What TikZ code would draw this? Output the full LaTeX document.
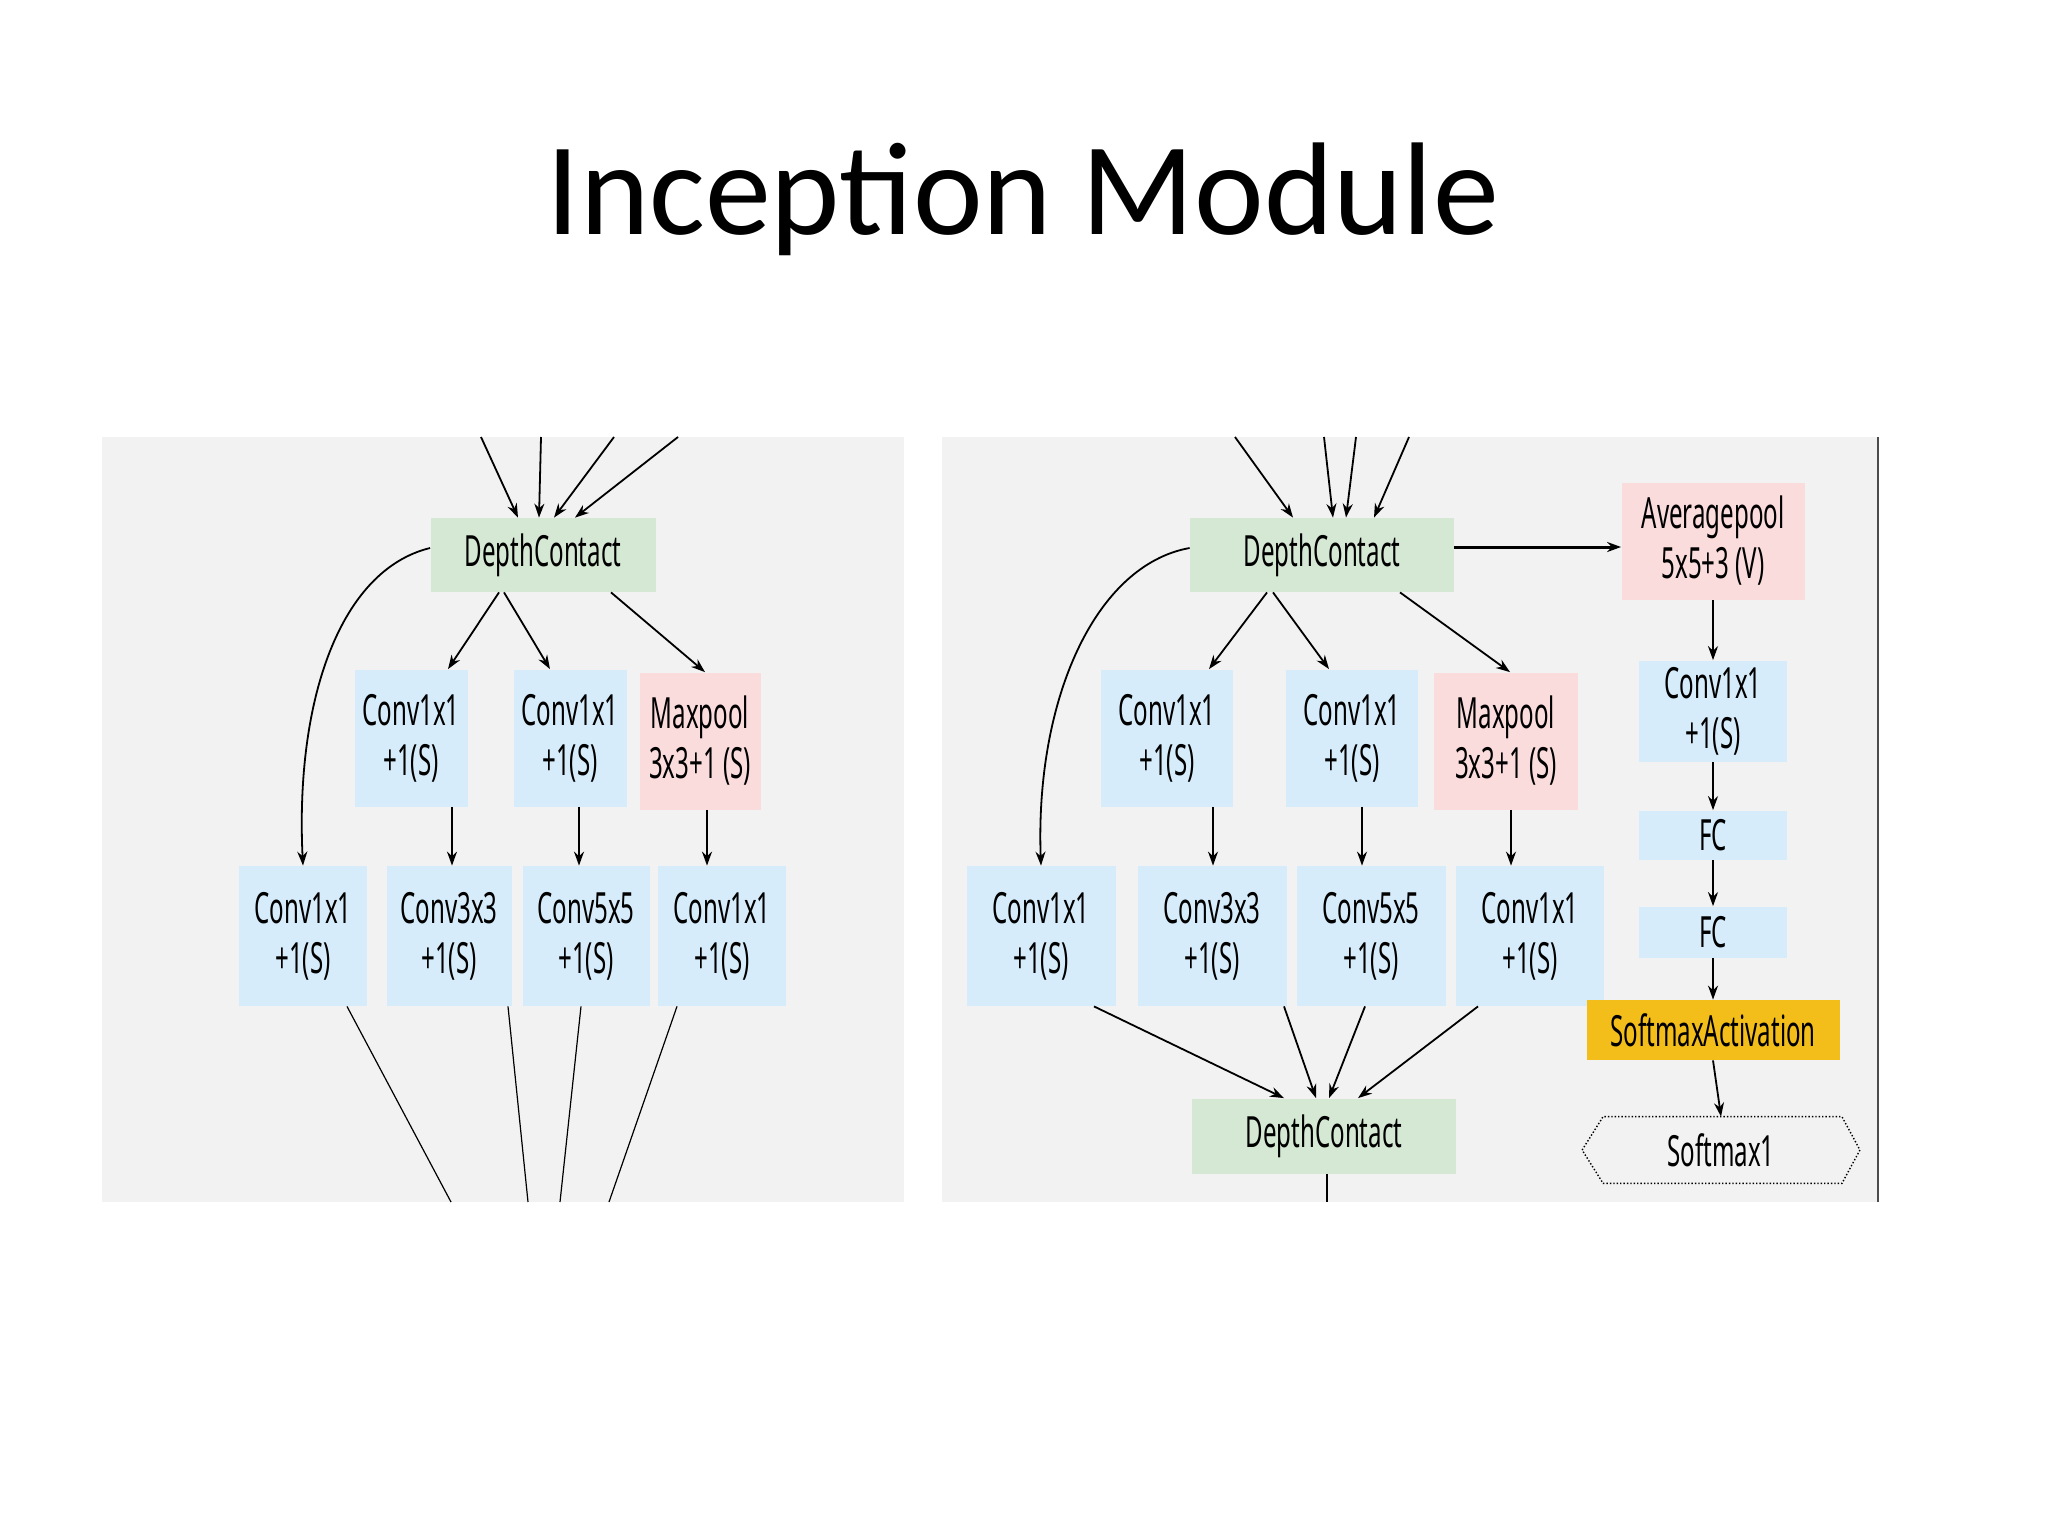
\documentclass[tikz,border=0pt]{standalone}
\usepackage{fontspec}
\setmainfont{Carlito}
\newfontfamily\nodefont{Noto Sans}[FakeStretch=0.56]
\usetikzlibrary{arrows.meta,calc}
\definecolor{panel}{HTML}{F2F2F2}
\definecolor{bblue}{HTML}{D6ECFA}
\definecolor{bgreen}{HTML}{D5E8D4}
\definecolor{bpink}{HTML}{FBDCDC}
\definecolor{byellow}{HTML}{F3BD1A}
\begin{document}
\begin{tikzpicture}[x=0.5pt,y=-0.5pt,
  box/.style={inner sep=0pt,align=center,font=\nodefont\fontsize{21.5}{25}\selectfont},
  blue/.style={box,fill=bblue},
  green/.style={box,fill=bgreen},
  pink/.style={box,fill=bpink},
  yel/.style={box,fill=byellow},
  sz/.style 2 args={minimum width=#1*0.5pt,minimum height=#2*0.5pt},
  ar/.style={-{Stealth[length=7pt,width=5pt]},line width=0.9pt},
  ln/.style={line width=0.6pt}]
\useasboundingbox (0,0) rectangle (2048,1536);
\node[font=\fontsize{66}{70}\selectfont] (title) at (1023,199) {Inception Module};
\fill[panel] (102,437) rectangle (904,1202);
\fill[panel] (942,437) rectangle (1878,1202);
\draw[line width=0.8pt,black!70] (1878,437) -- (1878,1202);
% ---------- left panel
\node[green,sz={225}{74}] (dcL) at (543,555) {DepthContact};
\node[blue,sz={113}{137}] (aL) at (411,738) {Conv1x1\\+1(S)};
\node[blue,sz={113}{137}] (bL) at (570,738) {Conv1x1\\+1(S)};
\node[pink,sz={121}{137}] (mL) at (700,741) {Maxpool\\3x3+1 (S)};
\node[blue,sz={128}{140}] (p1L) at (303,936) {Conv1x1\\+1(S)};
\node[blue,sz={125}{140}] (p2L) at (449,936) {Conv3x3\\+1(S)};
\node[blue,sz={127}{140}] (p3L) at (586,936) {Conv5x5\\+1(S)};
\node[blue,sz={128}{140}] (p4L) at (722,936) {Conv1x1\\+1(S)};
\coordinate (tL1) at (481,437); \coordinate (tL2) at (541,437);
\coordinate (tL3) at (614,437); \coordinate (tL4) at (678,437);
\draw[ar] (tL1) -- ($(dcL.north)+(-25,0)$);
\draw[ar] (tL2) -- ($(dcL.north)+(-4,0)$);
\draw[ar] (tL3) -- ($(dcL.north)+(11,0)$);
\draw[ar] (tL4) -- ($(dcL.north)+(32,0)$);
\draw[ar] ($(dcL.south)+(-44,0)$) -- ($(aL.north)+(37,0)$);
\draw[ar] ($(dcL.south)+(-39,0)$) -- ($(bL.north)+(-20,0)$);
\draw[ar] ($(dcL.south)+(68,0)$) -- ($(mL.north)+(5,0)$);
\draw[ar] ($(aL.south)+(41,0)$) -- ($(p2L.north)+(3,0)$);
\draw[ar] ($(bL.south)+(9,0)$) -- ($(p3L.north)+(-7,0)$);
\draw[ar] ($(mL.south)+(7,0)$) -- ($(p4L.north)+(-15,0)$);
\draw[ar] ($(dcL.west)+(0,-7)$) .. controls (340,570) and (295,700) .. (p1L.north);
\coordinate (bL1) at (451,1202); \coordinate (bL2) at (528,1202);
\coordinate (bL3) at (560,1202); \coordinate (bL4) at (609,1202);
\draw[ln] ($(p1L.south)+(44,0)$) -- (bL1);
\draw[ln] ($(p2L.south)+(59,0)$) -- (bL2);
\draw[ln] ($(p3L.south)+(-5,0)$) -- (bL3);
\draw[ln] ($(p4L.south)+(-45,0)$) -- (bL4);
% ---------- right panel
\node[green,sz={264}{74}] (dcR) at (1322,555) {DepthContact};
\node[pink,sz={183}{117}] (avg) at (1713,541) {Averagepool\\5x5+3 (V)};
\node[blue,sz={132}{137}] (aR) at (1167,738) {Conv1x1\\+1(S)};
\node[blue,sz={132}{137}] (bR) at (1352,738) {Conv1x1\\+1(S)};
\node[pink,sz={144}{137}] (mR) at (1506,741) {Maxpool\\3x3+1 (S)};
\node[blue,sz={149}{140}] (p1R) at (1041,936) {Conv1x1\\+1(S)};
\node[blue,sz={149}{140}] (p2R) at (1212,936) {Conv3x3\\+1(S)};
\node[blue,sz={149}{140}] (p3R) at (1371,936) {Conv5x5\\+1(S)};
\node[blue,sz={148}{140}] (p4R) at (1530,936) {Conv1x1\\+1(S)};
\node[green,sz={264}{75}] (dcB) at (1324,1136) {DepthContact};
\node[blue,sz={148}{101}] (cR) at (1713,711) {Conv1x1\\+1(S)};
\node[blue,sz={148}{49}] (fc1) at (1713,835) {FC};
\node[blue,sz={148}{51}] (fc2) at (1713,932) {FC};
\node[yel,sz={253}{60}] (sm) at (1713,1030) {SoftmaxActivation};
\node[box,sz={277}{66}] (s1) at (1721,1150) {Softmax1};
\draw[densely dotted,line width=0.7pt] (s1.west) -- ($(s1.north west)+(21,0)$) -- ($(s1.north east)+(-18,0)$) -- (s1.east) -- ($(s1.south east)+(-18,0)$) -- ($(s1.south west)+(21,0)$) -- cycle;
\coordinate (tR1) at (1235,437); \coordinate (tR2) at (1324,437);
\coordinate (tR3) at (1356,437); \coordinate (tR4) at (1409,437);
\draw[ar] (tR1) -- ($(dcR.north)+(-29,0)$);
\draw[ar] (tR2) -- ($(dcR.north)+(11,0)$);
\draw[ar] (tR3) -- ($(dcR.north)+(24,0)$);
\draw[ar] (tR4) -- ($(dcR.north)+(52,0)$);
\draw[ar,line width=1.5pt] ($(dcR.east)+(0,-8)$) -- ($(avg.west)+(0,6)$);
\draw[ar] ($(dcR.south)+(-55,0)$) -- ($(aR.north)+(42,0)$);
\draw[ar] ($(dcR.south)+(-49,0)$) -- ($(bR.north)+(-23,0)$);
\draw[ar] ($(dcR.south)+(78,0)$) -- ($(mR.north)+(4,0)$);
\draw[ar] ($(aR.south)+(46,0)$) -- ($(p2R.north)+(1,0)$);
\draw[ar] ($(bR.south)+(10,0)$) -- ($(p3R.north)+(-9,0)$);
\draw[ar] ($(mR.south)+(5,0)$) -- ($(p4R.north)+(-19,0)$);
\draw[ar] ($(dcR.west)+(0,-7)$) .. controls (1095,565) and (1035,700) .. (p1R.north);
\draw[ar] ($(p1R.south)+(53,0)$) -- ($(dcB.north)+(-40,0)$);
\draw[ar] ($(p2R.south)+(72,0)$) -- ($(dcB.north)+(-8,0)$);
\draw[ar] ($(p3R.south)+(-6,0)$) -- ($(dcB.north)+(5,0)$);
\draw[ar] ($(p4R.south)+(-52,0)$) -- ($(dcB.north)+(34,0)$);
\coordinate (bR0) at (1327,1202);
\draw[ln,line width=0.9pt] ($(dcB.south)+(3,0)$) -- (bR0);
\draw[ar] (avg.south) -- (cR.north);
\draw[ar] (cR.south) -- (fc1.north);
\draw[ar] (fc1.south) -- (fc2.north);
\draw[ar] (fc2.south) -- (sm.north);
\draw[ar] (sm.south) -- (s1.north);
\end{tikzpicture}
\end{document}
